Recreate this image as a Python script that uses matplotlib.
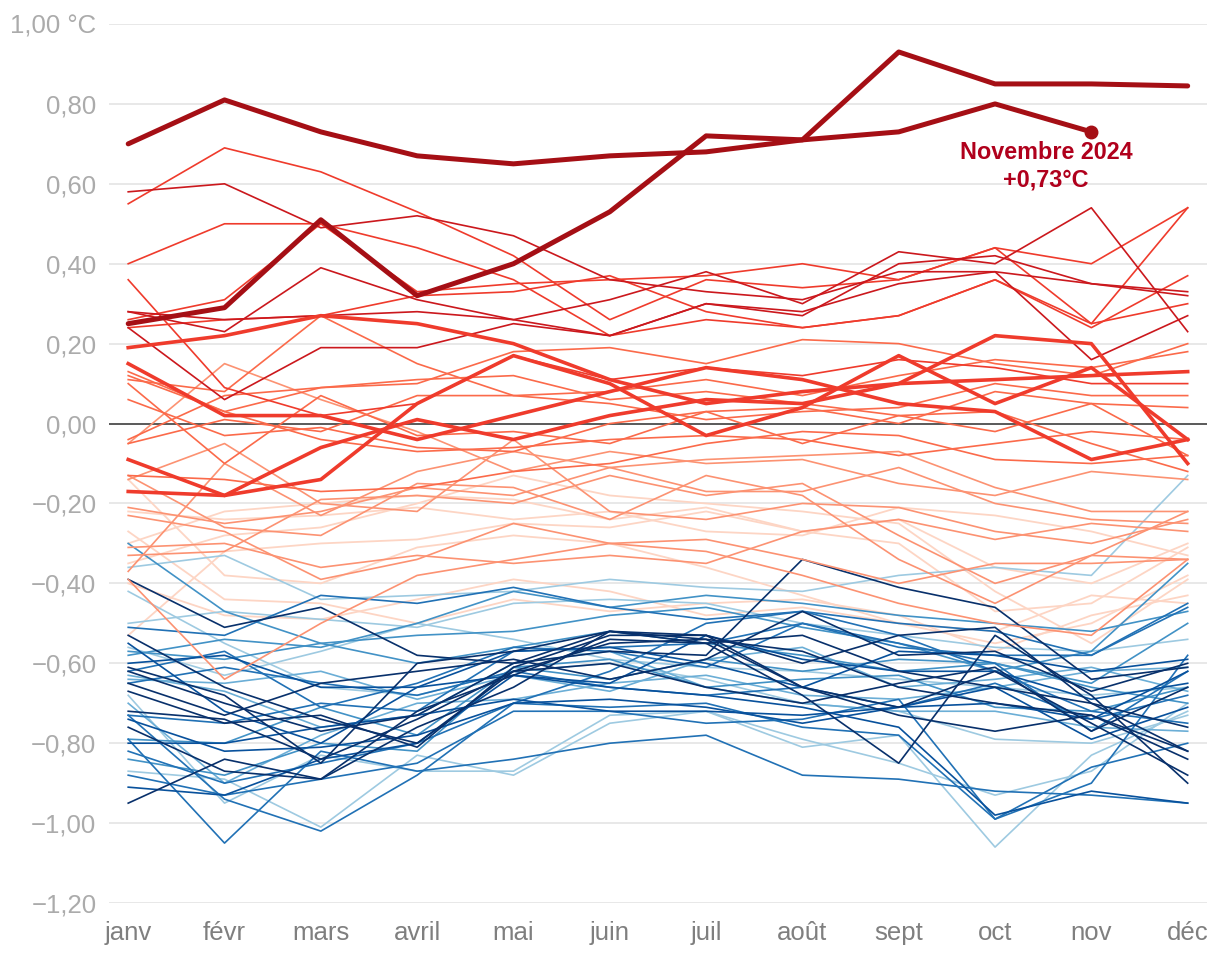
import matplotlib
matplotlib.use("Agg")
import matplotlib.pyplot as plt

plt.rcParams['font.family'] = ['Liberation Sans', 'DejaVu Sans']

months = ['janv', 'févr', 'mars', 'avril', 'mai', 'juin', 'juil', 'août', 'sept', 'oct', 'nov', 'déc']
y_ticks = [-1.2, -1.0, -0.8, -0.6, -0.4, -0.2, 0.0, 0.2, 0.4, 0.6, 0.8, 1.0]

# anomalies mensuelles (°C), une liste par année, regroupées par teinte
blues = {
    '#9ecae1': [
        [-0.36, -0.33, -0.44, -0.43, -0.42, -0.39, -0.41, -0.42, -0.38, -0.36, -0.38, -0.13],
        [-0.42, -0.55, -0.66, -0.68, -0.62, -0.60, -0.64, -0.70, -0.72, -0.79, -0.80, -0.73],
        [-0.50, -0.47, -0.49, -0.51, -0.45, -0.44, -0.45, -0.50, -0.53, -0.56, -0.57, -0.54],
        [-0.87, -0.89, -1.01, -0.83, -0.88, -0.75, -0.72, -0.79, -0.85, -0.93, -0.87, -0.70],
        [-0.68, -0.95, -0.83, -0.87, -0.87, -0.73, -0.72, -0.81, -0.78, -1.06, -0.83, -0.72],
        [-0.56, -0.63, -0.57, -0.50, -0.54, -0.59, -0.61, -0.62, -0.64, -0.66, -0.68, -0.66],
    ],
    '#6baed6': [
        [-0.64, -0.65, -0.62, -0.69, -0.63, -0.67, -0.59, -0.56, -0.66, -0.64, -0.61, -0.67],
        [-0.63, -0.67, -0.76, -0.73, -0.60, -0.57, -0.66, -0.70, -0.72, -0.72, -0.76, -0.77],
        [-0.70, -0.90, -0.78, -0.70, -0.69, -0.65, -0.63, -0.68, -0.69, -0.66, -0.62, -0.61],
    ],
    '#4292c6': [
        [-0.30, -0.47, -0.55, -0.60, -0.56, -0.52, -0.55, -0.58, -0.62, -0.60, -0.66, -0.70],
        [-0.57, -0.59, -0.55, -0.53, -0.52, -0.48, -0.46, -0.51, -0.55, -0.62, -0.57, -0.35],
        [-0.79, -0.80, -0.71, -0.78, -0.61, -0.59, -0.66, -0.64, -0.63, -0.71, -0.72, -0.66],
        [-0.58, -0.54, -0.56, -0.50, -0.42, -0.46, -0.43, -0.45, -0.48, -0.50, -0.52, -0.47],
        [-0.84, -0.88, -0.80, -0.82, -0.61, -0.64, -0.59, -0.62, -0.59, -0.60, -0.65, -0.50],
    ],
    '#2171b5': [
        [-0.51, -0.53, -0.43, -0.45, -0.41, -0.46, -0.49, -0.47, -0.50, -0.52, -0.58, -0.46],
        [-0.62, -0.57, -0.71, -0.65, -0.56, -0.57, -0.61, -0.50, -0.55, -0.60, -0.77, -0.62],
        [-0.73, -0.75, -0.70, -0.72, -0.57, -0.56, -0.55, -0.50, -0.56, -0.58, -0.58, -0.45],
        [-0.82, -0.90, -0.85, -0.80, -0.70, -0.62, -0.50, -0.47, -0.53, -0.62, -0.72, -0.75],
        [-0.88, -0.93, -0.89, -0.85, -0.72, -0.72, -0.75, -0.74, -0.69, -0.99, -0.90, -0.58],
        [-0.79, -1.05, -0.82, -0.87, -0.84, -0.80, -0.78, -0.88, -0.89, -0.92, -0.93, -0.95],
        [-0.73, -0.94, -1.02, -0.88, -0.70, -0.71, -0.70, -0.76, -0.78, -0.99, -0.86, -0.80],
        [-0.65, -0.61, -0.65, -0.68, -0.62, -0.66, -0.68, -0.66, -0.71, -0.65, -0.74, -0.68],
    ],
    '#08519c': [
        [-0.55, -0.72, -0.80, -0.66, -0.57, -0.56, -0.60, -0.66, -0.57, -0.58, -0.62, -0.59],
        [-0.74, -0.82, -0.81, -0.78, -0.70, -0.69, -0.71, -0.75, -0.71, -0.70, -0.74, -0.62],
        [-0.91, -0.93, -0.84, -0.80, -0.63, -0.66, -0.68, -0.71, -0.76, -0.98, -0.92, -0.95],
        [-0.80, -0.80, -0.76, -0.73, -0.69, -0.72, -0.72, -0.73, -0.71, -0.66, -0.79, -0.71],
        [-0.60, -0.58, -0.66, -0.66, -0.63, -0.65, -0.53, -0.59, -0.62, -0.62, -0.69, -0.65],
    ],
    '#08306b': [
        [-0.39, -0.51, -0.46, -0.58, -0.60, -0.52, -0.55, -0.53, -0.62, -0.66, -0.70, -0.76],
        [-0.53, -0.66, -0.74, -0.80, -0.62, -0.55, -0.54, -0.57, -0.66, -0.70, -0.73, -0.82],
        [-0.61, -0.68, -0.85, -0.60, -0.57, -0.52, -0.53, -0.60, -0.53, -0.51, -0.70, -0.82],
        [-0.65, -0.73, -0.65, -0.62, -0.59, -0.64, -0.59, -0.47, -0.58, -0.57, -0.67, -0.60],
        [-0.67, -0.75, -0.73, -0.81, -0.61, -0.53, -0.53, -0.66, -0.71, -0.62, -0.75, -0.88],
        [-0.76, -0.87, -0.89, -0.72, -0.63, -0.54, -0.55, -0.68, -0.85, -0.53, -0.68, -0.90],
        [-0.95, -0.84, -0.89, -0.76, -0.66, -0.52, -0.54, -0.66, -0.73, -0.77, -0.73, -0.84],
        [-0.62, -0.70, -0.77, -0.73, -0.60, -0.57, -0.58, -0.34, -0.41, -0.46, -0.64, -0.61],
        [-0.72, -0.74, -0.84, -0.74, -0.62, -0.60, -0.66, -0.70, -0.65, -0.61, -0.77, -0.66],
    ],
}

reds = {
    '#fdd5c4': [
        [-0.30, -0.22, -0.20, -0.18, -0.19, -0.24, -0.21, -0.27, -0.24, -0.36, -0.40, -0.30],
        [-0.14, -0.38, -0.40, -0.31, -0.28, -0.30, -0.36, -0.43, -0.50, -0.52, -0.43, -0.45],
        [-0.40, -0.48, -0.49, -0.44, -0.39, -0.42, -0.48, -0.46, -0.50, -0.55, -0.50, -0.38],
        [-0.35, -0.28, -0.26, -0.20, -0.13, -0.18, -0.20, -0.22, -0.25, -0.42, -0.55, -0.39],
        [-0.53, -0.32, -0.30, -0.29, -0.25, -0.26, -0.22, -0.27, -0.30, -0.47, -0.45, -0.31],
        [-0.27, -0.44, -0.45, -0.50, -0.44, -0.47, -0.45, -0.44, -0.48, -0.57, -0.48, -0.43],
        [-0.22, -0.24, -0.23, -0.21, -0.24, -0.22, -0.27, -0.28, -0.21, -0.23, -0.27, -0.33],
    ],
    '#fc9272': [
        [-0.05, 0.15, 0.06, -0.02, -0.12, -0.07, -0.10, -0.09, -0.15, -0.18, -0.12, -0.14],
        [-0.21, -0.25, -0.22, -0.16, -0.18, -0.11, -0.09, -0.08, -0.07, -0.16, -0.22, -0.22],
        [-0.23, -0.27, -0.39, -0.34, -0.25, -0.30, -0.29, -0.34, -0.40, -0.35, -0.35, -0.34],
        [-0.31, -0.30, -0.36, -0.33, -0.35, -0.33, -0.35, -0.27, -0.24, -0.29, -0.25, -0.27],
        [-0.33, -0.32, -0.19, -0.18, -0.20, -0.13, -0.18, -0.15, -0.28, -0.40, -0.33, -0.34],
        [-0.37, -0.10, -0.23, -0.12, -0.07, -0.11, -0.17, -0.17, -0.11, -0.20, -0.24, -0.25],
        [-0.39, -0.64, -0.50, -0.38, -0.34, -0.30, -0.32, -0.38, -0.45, -0.50, -0.53, -0.34],
        [-0.14, -0.05, -0.20, -0.22, -0.04, -0.22, -0.24, -0.20, -0.21, -0.27, -0.30, -0.24],
        [-0.13, -0.26, -0.28, -0.15, -0.16, -0.24, -0.13, -0.18, -0.34, -0.45, -0.33, -0.22],
    ],
    '#fb6a4a': [
        [0.13, 0.03, 0.09, 0.10, 0.18, 0.19, 0.15, 0.21, 0.20, 0.15, 0.12, 0.20],
        [0.11, 0.08, 0.27, 0.15, 0.07, 0.08, 0.11, 0.07, 0.12, 0.16, 0.14, 0.18],
        [0.06, -0.03, -0.01, -0.06, -0.07, 0.00, 0.03, 0.04, 0.00, 0.08, 0.05, 0.04],
        [-0.04, 0.07, 0.09, 0.11, 0.12, 0.06, 0.08, 0.05, 0.02, -0.02, 0.05, -0.08],
        [-0.05, 0.01, -0.02, 0.07, 0.07, 0.05, 0.01, 0.03, 0.04, 0.10, 0.07, 0.07],
        [0.10, -0.10, 0.07, -0.03, -0.02, -0.05, 0.03, -0.05, 0.02, 0.03, -0.05, -0.12],
        [-0.13, -0.14, -0.17, -0.16, -0.12, -0.10, -0.05, -0.02, -0.03, -0.09, -0.10, -0.08],
        [0.12, 0.03, -0.04, -0.07, -0.06, -0.04, -0.03, -0.04, -0.08, -0.05, -0.02, -0.04],
    ],
    '#ef3b2c': [
        [0.55, 0.69, 0.63, 0.53, 0.42, 0.26, 0.36, 0.34, 0.36, 0.44, 0.40, 0.54],
        [0.40, 0.50, 0.50, 0.44, 0.36, 0.22, 0.26, 0.24, 0.27, 0.36, 0.24, 0.37],
        [0.36, 0.09, 0.02, 0.05, 0.17, 0.11, 0.14, 0.12, 0.16, 0.14, 0.10, 0.10],
        [0.26, 0.31, 0.50, 0.33, 0.35, 0.36, 0.37, 0.40, 0.36, 0.44, 0.25, 0.54],
        [0.24, 0.26, 0.27, 0.32, 0.33, 0.37, 0.28, 0.24, 0.27, 0.36, 0.25, 0.30],
    ],
    '#cb181d': [
        [0.58, 0.60, 0.49, 0.52, 0.47, 0.36, 0.33, 0.31, 0.38, 0.38, 0.35, 0.32],
        [0.28, 0.23, 0.39, 0.31, 0.26, 0.31, 0.38, 0.30, 0.43, 0.40, 0.54, 0.23],
        [0.24, 0.06, 0.19, 0.19, 0.25, 0.22, 0.30, 0.28, 0.35, 0.38, 0.16, 0.27],
        [0.28, 0.26, 0.27, 0.28, 0.26, 0.22, 0.30, 0.27, 0.40, 0.42, 0.35, 0.33],
    ],
}

# années mises en avant (trait épais)
highlight_mid = [
    [0.19, 0.22, 0.27, 0.25, 0.20, 0.11, 0.05, 0.08, 0.10, 0.11, 0.12, 0.13],
    [0.15, 0.02, 0.02, -0.04, 0.02, 0.08, 0.14, 0.11, 0.05, 0.03, -0.09, -0.04],
    [-0.09, -0.18, -0.06, 0.01, -0.04, 0.02, 0.06, 0.05, 0.10, 0.22, 0.20, -0.10],
    [-0.17, -0.18, -0.14, 0.05, 0.17, 0.10, -0.03, 0.04, 0.17, 0.05, 0.14, -0.04],
]
y2023 = [0.25, 0.29, 0.51, 0.32, 0.40, 0.53, 0.72, 0.71, 0.93, 0.85, 0.85, 0.845]
y2024 = [0.70, 0.81, 0.73, 0.67, 0.65, 0.67, 0.68, 0.71, 0.73, 0.80, 0.73]

x = list(range(12))

fig = plt.figure(figsize=(12.2, 9.56), dpi=100)
ax = fig.add_axes([0.0893, 0.0554, 0.9, 0.9195])

for vals in reds['#fdd5c4']:
    ax.plot(x, vals, color='#fdd5c4', lw=1.3)
for color, lines in blues.items():
    for vals in lines:
        ax.plot(x, vals, color=color, lw=1.2)
for color in ['#fc9272', '#fb6a4a', '#ef3b2c', '#cb181d']:
    for vals in reds[color]:
        ax.plot(x, vals, color=color, lw=1.2)
for vals in highlight_mid:
    ax.plot(x, vals, color='#ef3b2c', lw=2.6)

ax.plot(x, y2023, color='#a50f15', lw=3.6, solid_capstyle='round', solid_joinstyle='round')
ax.plot(x[:11], y2024, color='#a50f15', lw=3.6, solid_capstyle='round', solid_joinstyle='round')
ax.plot(x[10], y2024[10], 'o', color='#a50f15', ms=9)
ax.text(x[10] - 0.47, y2024[10] - 0.022, 'Novembre 2024\n+0,73°C', color='#b0001c',
        fontsize=16.8, fontweight='bold', ha='center', va='top', linespacing=1.25)

ax.axhline(0, color='#333333', lw=1.1, zorder=1.5)

ax.set_xlim(-0.2, 11.2)
ax.set_ylim(-1.2, 1.0)
ax.set_xticks(x)
ax.set_xticklabels(months)
ax.set_yticks(y_ticks)
labels = [f'{v:.2f}'.replace('.', ',').replace('-', '\u2212') for v in y_ticks]
labels[-1] = '1,00 °C'
labels[y_ticks.index(0.0)] = '0,00'
ax.set_yticklabels(labels)
ax.tick_params(axis='x', length=0, pad=13, labelsize=18.5, labelcolor='#7f7f7f')
ax.tick_params(axis='y', length=0, pad=9, labelsize=18.5, labelcolor='#ababab')
ax.grid(axis='y', color='#e6e6e6', lw=1.3)
ax.set_axisbelow(True)
for s in ax.spines.values():
    s.set_visible(False)

fig.savefig('out.png', dpi=100, facecolor='white')
